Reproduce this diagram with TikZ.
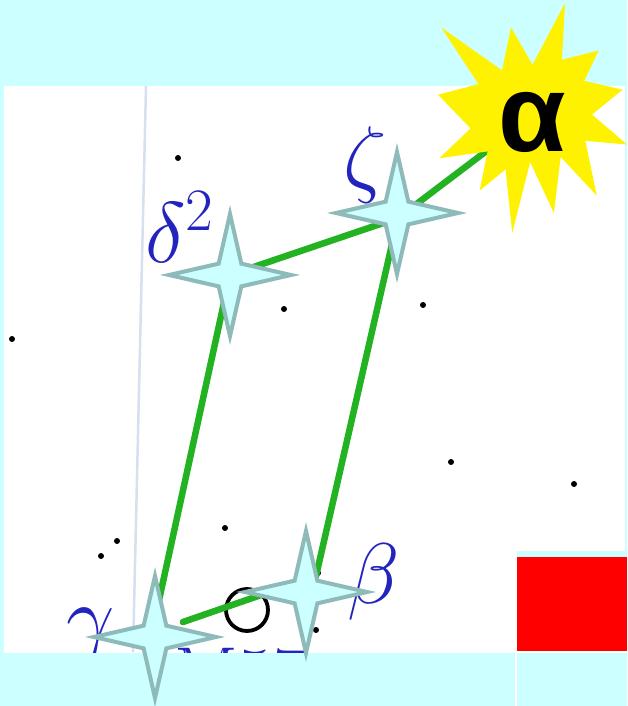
\RequirePackage{fix-cm}
\documentclass[tikz,border=0pt]{standalone}
\usepackage{fontspec}
\newfontfamily\burstfont{Liberation Sans}
\usetikzlibrary{shapes.geometric}
\definecolor{skycyan}{RGB}{204,255,255}
\definecolor{starline}{RGB}{143,186,186}
\definecolor{linegreen}{RGB}{34,178,34}
\definecolor{labelblue}{RGB}{35,35,190}
\definecolor{gridblue}{RGB}{215,224,240}
\tikzset{
  brightstar/.style={star,star points=4,star point ratio=3.8,minimum size=122pt,
    inner sep=0pt,fill=skycyan,draw=starline,line width=4pt},
  figure/.style={line width=6.5pt,color=linegreen,line cap=round},
  greek/.style={labelblue,inner sep=0pt,anchor=base west,
    font=\fontsize{86}{86}\selectfont}
}

\begin{document}
\begin{tikzpicture}[x=1pt,y=-1pt]
\useasboundingbox (0,0) rectangle (627,706);
\fill[skycyan] (0,0) rectangle (627,706);
\fill[white] (4,86) rectangle (625,652.5);
% the star chart
\begin{scope}
\clip (4,86) rectangle (625,652.5);
\draw[gridblue,line width=2.5pt] (146,86) -- (133,652);
\foreach \p in {(178,158),(284,309),(423,305),(12,339),(451,462),(574,484),
    (225,528),(117,541),(101,556),(316,630),(318,573),(183,622)}
  \fill \p circle (3);
\coordinate (g) at (156,614);
\coordinate (gdot) at (183,622);
\coordinate (d) at (230,275);
\coordinate (z) at (398,218);
\coordinate (b) at (316,576);
\coordinate (a) at (505,137);
\draw[line width=3.8pt] (247,610) circle (21);
\draw[figure] (g) -- (d) -- (z) -- (a);
\draw[figure] (z) -- (b) -- (gdot);
\node[greek] (dlabel) at (145,262) {$\delta^2$};
\node[greek] (zlabel) at (343,186) {$\zeta$};
\node[greek] (blabel) at (347,603) {$\beta$};
\node[greek] (glabel) at (66,645) {$\gamma$};
\node[greek,font=\fontsize{75}{75}\selectfont] (mlabel) at (174,699) {M57};
\end{scope}
% red box
\fill[white] (515,551) rectangle (627,706);
\fill[skycyan] (517,551) rectangle (627,557);
\fill[red] (517,557) rectangle (627,651);
\fill[skycyan] (517,653) rectangle (627,706);
% marked stars
\node[brightstar] (dstar) at (230,275) {};
\node[brightstar] (zstar) at (397,213) {};
\node[brightstar] (bstar) at (306,592) {};
\node[brightstar] (gstar) at (155,637) {};
% Vega
\begin{scope}[shift={(438,3)},xscale=.875,yscale=1.0648]
\fill[yellow] (108,58) -- (145.22,0) -- (141.55,53.25) -- (183.8,44.57)
  -- (167.02,73.15) -- (210.97,81.37) -- (176.07,104.75) -- (216,132.9)
  -- (168.37,129.42) -- (181.45,180.95) -- (140.2,144.57) -- (132.47,197.37)
  -- (105.32,149.35) -- (84.85,216) -- (77.15,156.27) -- (47.62,176.17)
  -- (56.67,139.37) -- (1.35,145.87) -- (37.22,117.75) -- (0,86.15)
  -- (46.27,76.17) -- (3.7,22.95) -- (73.12,63.2) -- (83.52,22.95) -- cycle;
\end{scope}
\node[inner sep=0pt,font=\burstfont\bfseries\fontsize{110}{110}\selectfont] (alabel) at (532,122) {α};
\end{tikzpicture}
\end{document}
